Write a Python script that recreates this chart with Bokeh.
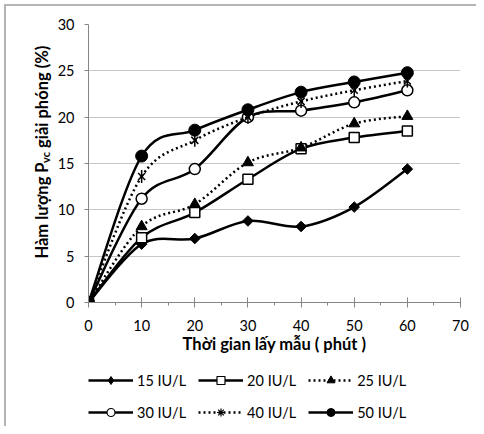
import math
from bokeh.plotting import figure
from bokeh.layouts import row, column
from bokeh.models import Range1d, FixedTicker, Legend, LegendItem, ColumnDataSource
from bokeh.embed import file_html
from bokeh.resources import INLINE
from bokeh.core.properties import value

# ---- data ----
times = [0, 10, 20, 30, 40, 50, 60]
s15 = [0, 6.3, 6.9, 8.8, 8.2, 10.3, 14.4]
s20 = [0, 7.0, 9.7, 13.3, 16.6, 17.8, 18.5]
s25 = [0, 8.2, 10.6, 15.1, 16.7, 19.3, 20.1]
s30 = [0, 11.2, 14.4, 20.0, 20.7, 21.6, 22.9]
s40 = [0, 13.6, 17.5, 20.0, 21.7, 22.9, 23.9]
s50 = [0, 15.8, 18.6, 20.8, 22.7, 23.8, 24.8]
series_labels = ["15 IU/L", "20 IU/L", "25 IU/L", "30 IU/L", "40 IU/L", "50 IU/L"]
x_ticks = [0, 10, 20, 30, 40, 50, 60, 70]
x_minor = [5, 15, 25, 35, 45, 55, 65]
y_ticks = [0, 5, 10, 15, 20, 25, 30]
x_title = "Thời gian lấy mẫu ( phút )"
y_title_parts = ["Hàm lượng P", "vc", "giải phóng (%)"]

FONT = "Lato"
TITLE_FS = "16.5px"
LEFT_W = 54
W, H = 476, 426
MAIN_H = 360
LEG_H = H - MAIN_H
RIGHT_W = W - LEFT_W
BORDER = "#b4b4b4"

# ---- y-axis title panel (text with subscript) ----
pt = figure(width=LEFT_W, height=H, output_backend="svg", toolbar_location=None,
            x_range=Range1d(0, LEFT_W), y_range=Range1d(H, 0),
            x_axis_type=None, y_axis_type=None, min_border=0)
pt.outline_line_color = None
pt.grid.visible = False
pt.border_fill_color = None
pt.background_fill_color = None
title_src = ColumnDataSource(dict(
    x=[41, 45, 41],
    y=[258, 162.5, 147.5],
    t=y_title_parts,
    fs=[TITLE_FS, "11px", TITLE_FS],
))
pt.text(x="x", y="y", text="t", source=title_src, angle=math.pi / 2,
        text_font=value(FONT), text_font_style="bold", text_font_size="fs",
        text_align="left", text_baseline="middle", text_color="black")

# ---- main chart ----
p = figure(width=RIGHT_W, height=MAIN_H, output_backend="svg", toolbar_location=None,
           x_range=Range1d(0, 70), y_range=Range1d(0, 30),
           min_border_left=86 - LEFT_W, min_border_top=24, min_border_right=16,
           min_border_bottom=MAIN_H - 302)
p.outline_line_color = None
p.background_fill_color = "white"
p.border_fill_color = None

xa = p.xaxis[0]
xa.ticker = FixedTicker(ticks=x_ticks, minor_ticks=x_minor)
xa.axis_line_color = "#868686"
xa.major_tick_line_color = "#868686"
xa.minor_tick_line_color = "#868686"
xa.major_tick_in = 5
xa.major_tick_out = 5
xa.minor_tick_in = 0
xa.minor_tick_out = 3
xa.major_label_text_font = FONT
xa.major_label_text_font_size = "14.5px"
xa.major_label_text_color = "black"
xa.major_label_standoff = 12
xa.axis_label = x_title
xa.axis_label_text_font = FONT
xa.axis_label_text_font_style = "bold"
xa.axis_label_text_font_size = TITLE_FS
xa.axis_label_text_color = "black"
xa.axis_label_standoff = 0

ya = p.yaxis[0]
ya.ticker = FixedTicker(ticks=y_ticks)
ya.axis_line_color = "#868686"
ya.major_tick_line_color = "#868686"
ya.major_tick_in = 0
ya.major_tick_out = 4
ya.minor_tick_line_color = None
ya.major_label_text_font = FONT
ya.major_label_text_font_size = "14.5px"
ya.major_label_text_color = "black"
ya.major_label_standoff = 10

p.xgrid.grid_line_color = None
p.ygrid.ticker = FixedTicker(ticks=y_ticks)
p.ygrid.grid_line_color = "#8c8c8c"
p.ygrid.grid_line_dash = "1 1"
p.ygrid.grid_line_width = 1


def bezier_table(xs, ys):
    n = len(xs)
    d = dict(x0=[], y0=[], x1=[], y1=[], cx0=[], cy0=[], cx1=[], cy1=[])
    for i in range(n - 1):
        xm, ym = xs[max(i - 1, 0)], ys[max(i - 1, 0)]
        xa_, ya_ = xs[i], ys[i]
        xb, yb = xs[i + 1], ys[i + 1]
        xp, yp = xs[min(i + 2, n - 1)], ys[min(i + 2, n - 1)]
        d["x0"].append(xa_); d["y0"].append(ya_)
        d["x1"].append(xb); d["y1"].append(yb)
        d["cx0"].append(xa_ + (xb - xm) / 6.0); d["cy0"].append(ya_ + (yb - ym) / 6.0)
        d["cx1"].append(xb - (xp - xa_) / 6.0); d["cy1"].append(yb - (yp - ya_) / 6.0)
    return ColumnDataSource(d)


LW = 2.5
solid = dict(line_color="black", line_width=LW)
dotted = dict(line_color="black", line_width=LW, line_dash="2 3")

# (values, line style, markers on the chart, markers in the legend)
specs = [
    (s15, solid,
     [dict(marker="square", size=7.5, angle=math.pi / 4, fill_color="black", line_color="black", line_width=1)],
     [dict(marker="diamond", fill_color="black", line_color="black", line_width=1)]),
    (s20, solid,
     [dict(marker="square", size=10, fill_color="white", line_color="black", line_width=1.5)],
     [dict(marker="square", fill_color="white", line_color="black", line_width=1.2)]),
    (s25, dotted,
     [dict(marker="triangle", size=11, fill_color="black", line_color="black", line_width=1)],
     [dict(marker="triangle", fill_color="black", line_color="black", line_width=1)]),
    (s30, solid,
     [dict(marker="circle", size=11, fill_color="white", line_color="black", line_width=1.5)],
     [dict(marker="circle", fill_color="white", line_color="black", line_width=1.2)]),
    (s40, dotted,
     [dict(marker="x", size=10, line_color="black", line_width=1.5),
      dict(marker="dash", size=13, angle=math.pi / 2, line_color="black", line_width=1.5)],
     [dict(marker="asterisk", line_color="black", line_width=1.2)]),
    (s50, solid,
     [dict(marker="circle", size=12, fill_color="black", line_color="black", line_width=1)],
     [dict(marker="circle", fill_color="black", line_color="black", line_width=1)]),
]

# ---- legend panel ----
pl = figure(width=RIGHT_W, height=LEG_H, output_backend="svg", toolbar_location=None,
            x_range=Range1d(0, 1), y_range=Range1d(0, 1),
            x_axis_type=None, y_axis_type=None, min_border=0)
pl.outline_line_color = None
pl.grid.visible = False

NAN = float("nan")
items = []
for lab, (ys, lstyle, mks, lmks) in zip(series_labels, specs):
    p.bezier(x0="x0", y0="y0", x1="x1", y1="y1", cx0="cx0", cy0="cy0", cx1="cx1", cy1="cy1",
             source=bezier_table(times, ys), **lstyle)
    for mk in mks:
        p.scatter(x=times, y=ys, **mk)
    rends = [pl.line(x=[NAN], y=[NAN], **lstyle)]
    for mk in lmks:
        rends.append(pl.scatter(x=[NAN], y=[NAN], **mk))
    items.append(LegendItem(label=lab, renderers=rends))

legend = Legend(items=items, orientation="horizontal", ncols=3,
                location=(0, 4), padding=0, margin=0, spacing=12,
                glyph_width=45, glyph_height=20, label_height=20, label_standoff=4,
                label_text_font=FONT, label_text_font_size="14.5px", label_text_color="black",
                label_text_baseline="middle",
                border_line_color=None, background_fill_alpha=0)
pl.add_layout(legend, "center")

layout = row(pt, column(p, pl))
layout.styles = {
    "background": (f"linear-gradient({BORDER}, {BORDER}) 4px 4px / calc(100% - 4px) 2px no-repeat, "
                   f"linear-gradient({BORDER}, {BORDER}) 4px 4px / 2px calc(100% - 4px) no-repeat"),
}
open("out.html", "w").write(file_html(layout, INLINE))
